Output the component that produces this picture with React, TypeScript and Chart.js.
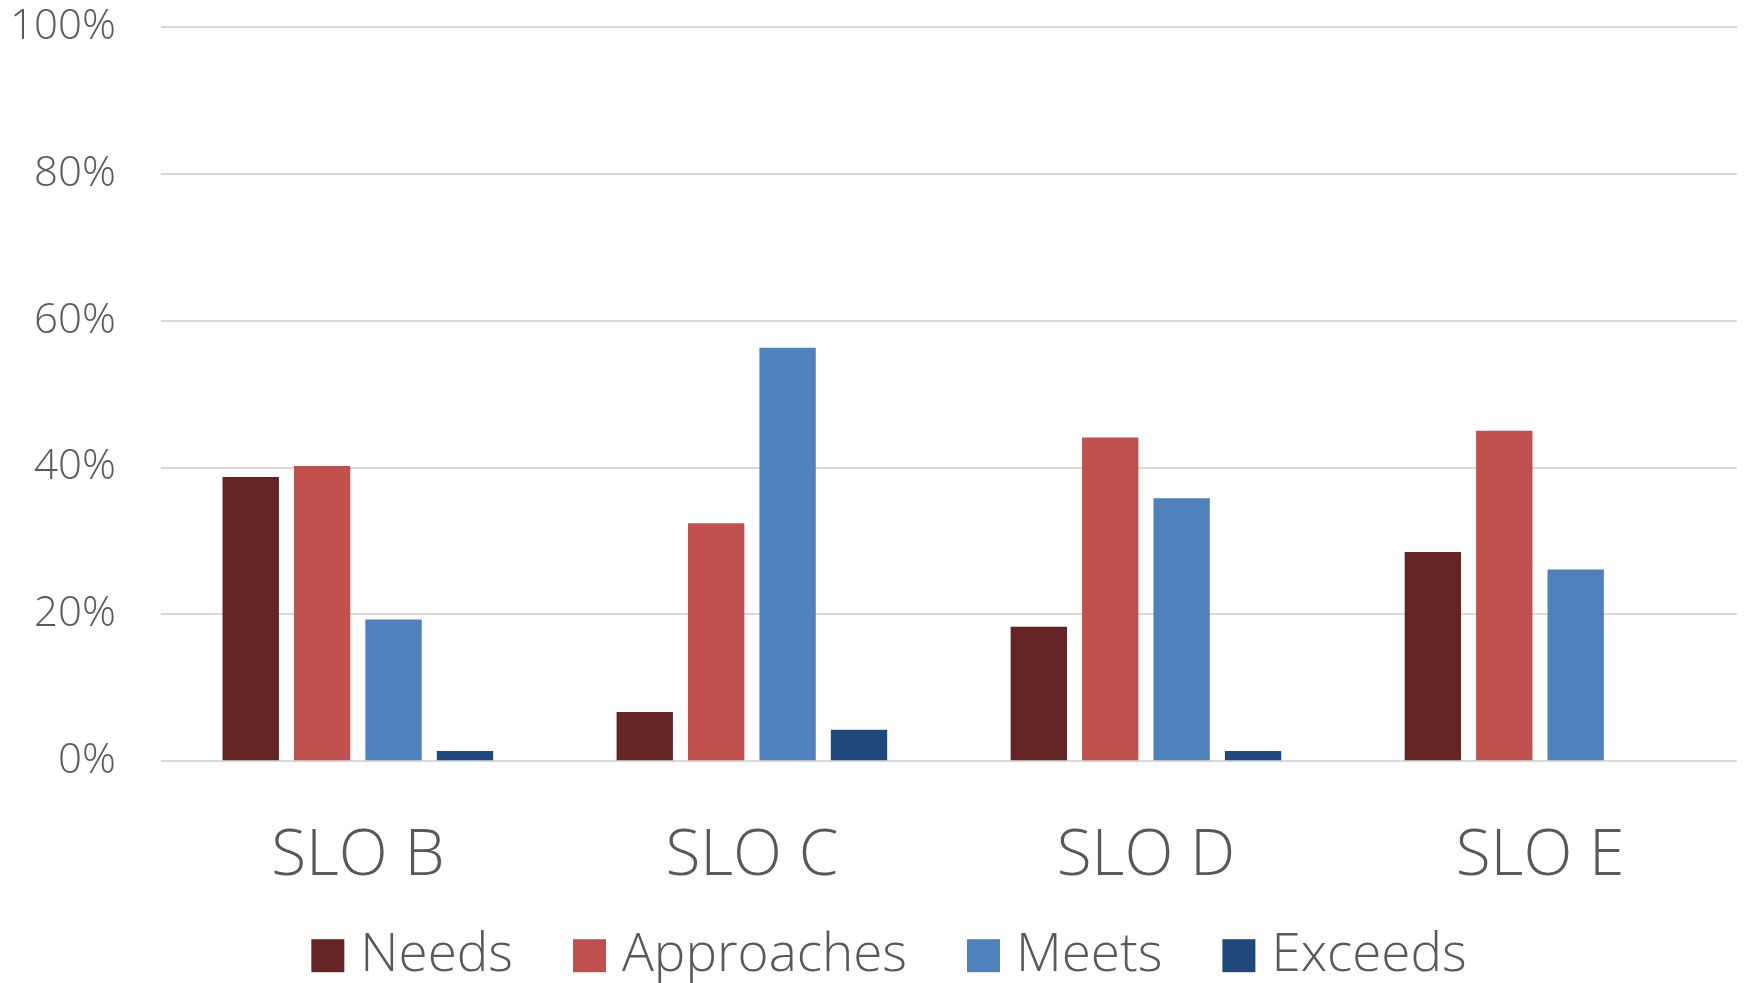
import React, { useEffect, useRef } from "react";
import { Chart, registerables } from "chart.js";

Chart.register(...registerables);

const categories = ["SLO B", "SLO C", "SLO D", "SLO E"];
const needs = [38.7, 6.7, 18.3, 28.5];
const approaches = [40.2, 32.4, 44.1, 45.0];
const meets = [19.3, 56.3, 35.8, 26.1];
const exceeds = [1.4, 4.3, 1.4, 0];
const seriesNames = ["Needs", "Approaches", "Meets", "Exceeds"];
const seriesColors = ["#632423", "#C0504D", "#4F81BD", "#1F497D"];
const yTickStep = 20;

const FONT = "'Open Sans', 'Noto Sans', sans-serif";
const TEXT = "#595959";

const legendPlugin = {
  id: "customLegend",
  afterDraw(chart: any) {
    const ctx = chart.ctx;
    const area = chart.chartArea;
    const fontSize = 53;
    const box = 33;
    const boxGap = 16;
    const itemGap = 60;
    ctx.save();
    ctx.font = `300 ${fontSize}px ${FONT}`;
    const items = chart.data.datasets.map((d: any) => ({
      text: d.label,
      color: d.backgroundColor,
      w: ctx.measureText(d.label).width,
    }));
    const total =
      items.reduce((s: number, it: any) => s + box + boxGap + it.w, 0) +
      itemGap * (items.length - 1);
    let x = chart.width / 2 + 14 - total / 2;
    const baseline = area.bottom + 210;
    const boxTop = area.bottom + 178;
    ctx.textBaseline = "alphabetic";
    ctx.textAlign = "left";
    for (const it of items) {
      ctx.fillStyle = it.color;
      ctx.fillRect(x, boxTop, box, box);
      x += box + boxGap;
      ctx.fillStyle = TEXT;
      ctx.fillText(it.text, x, baseline);
      x += it.w + itemGap;
    }
    ctx.restore();
  },
};

export default function App() {
  const ref = useRef<HTMLCanvasElement | null>(null);

  useEffect(() => {
    document.body.style.margin = "0";
    const canvas = ref.current;
    if (!canvas) return;
    const values = [needs, approaches, meets, exceeds];
    const chart = new Chart(canvas, {
      type: "bar",
      data: {
        labels: categories,
        datasets: seriesNames.map((name, i) => ({
          label: name,
          data: values[i],
          backgroundColor: seriesColors[i],
          borderWidth: 0,
          categoryPercentage: 0.725,
          barPercentage: 0.789,
        })),
      },
      plugins: [legendPlugin],
      options: {
        animation: false,
        responsive: false,
        maintainAspectRatio: false,
        layout: { padding: { left: 10, right: 13, top: 27, bottom: 88 } },
        plugins: {
          tooltip: { enabled: false },
          legend: { display: false },
        },
        scales: {
          x: {
            grid: {
              display: true,
              drawOnChartArea: false,
              drawTicks: true,
              tickLength: 57,
              tickColor: "rgba(0,0,0,0)",
            },
            border: { display: false },
            ticks: {
              color: TEXT,
              padding: 0,
              font: { family: FONT, size: 64, weight: "300" },
            },
          },
          y: {
            min: 0,
            max: 100,
            grid: {
              color: "#d9d9d9",
              lineWidth: 2,
              drawTicks: true,
              tickLength: 45,
              tickColor: "rgba(0,0,0,0)",
            },
            border: { display: false },
            ticks: {
              stepSize: yTickStep,
              color: TEXT,
              padding: 0,
              font: { family: FONT, size: 42, weight: "300" },
              callback: (v: any) => v + "%",
            },
          },
        },
      },
    });
    return () => chart.destroy();
  }, []);

  return (
    <div style={{ width: 1750, height: 983 }}>
      <canvas ref={ref} width={1750} height={983} style={{ display: "block" }} />
    </div>
  );
}
